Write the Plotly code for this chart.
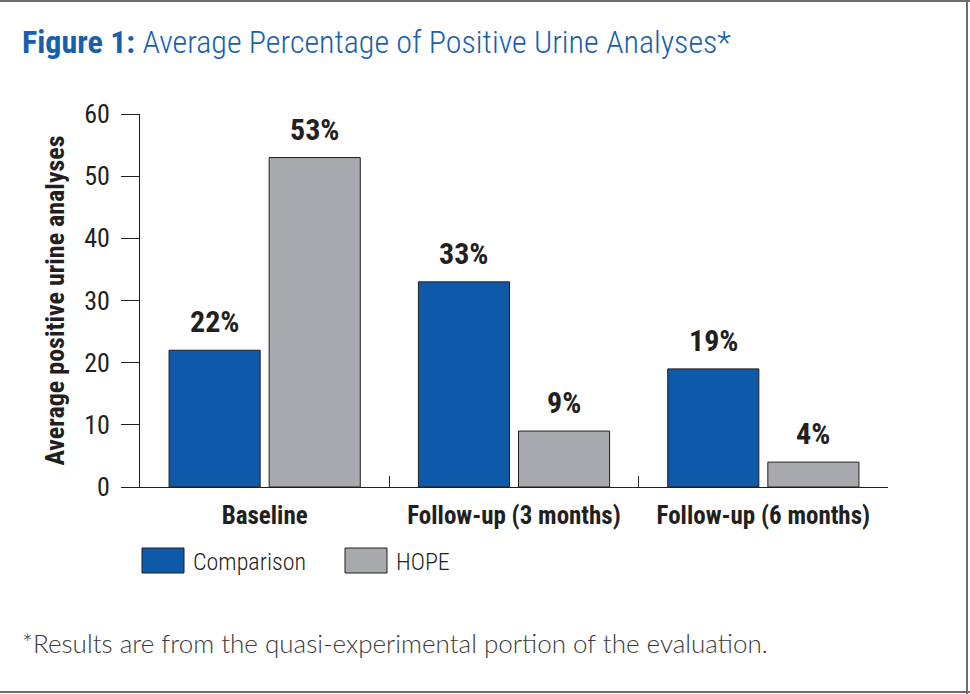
import plotly.graph_objects as go

categories = ["Baseline", "Follow-up (3 months)", "Follow-up (6 months)"]
series_names = ["Comparison", "HOPE"]
comparison = [22, 33, 19]
hope = [53, 9, 4]
values = [comparison, hope]
colors = ["#0e5aa8", "#a7a9ac"]

title_bold = "Figure 1:"
title_rest = "Average Percentage of Positive Urine Analyses*"
y_title = "Average positive urine analyses"
footnote = "*Results are from the quasi-experimental portion of the evaluation."

W, H = 970, 694
L, R, T, B = 140, 82, 114, 207
NARROW = "Roboto Condensed, Liberation Sans Narrow, sans-serif"
INK = "#231f20"
BLUE_TITLE = "#1660ad"


def px_x(p):
    return (p - L) / (W - L - R)


def px_y(p):
    return (H - B - p) / (H - T - B)


fig = go.Figure()
for name, vals, col in zip(series_names, values, colors):
    fig.add_trace(go.Bar(
        name=name, x=categories, y=vals,
        marker=dict(color=col, line=dict(color=INK, width=1)),
        showlegend=False, hoverinfo="skip",
    ))

# value labels above bars
slot = (W - L - R) / len(categories) * (1 - 0.197) / 2
annotations = []
for i, vals in enumerate(values):
    for cat, v in zip(categories, vals):
        annotations.append(dict(
            x=cat, y=v, xref="x", yref="y", text="<b>%d%%</b>" % v,
            showarrow=False, xshift=(i - 0.5) * slot, yshift=9, yanchor="bottom",
            font=dict(family=NARROW, size=30, color=INK),
        ))

# legend drawn by hand so the swatches can be large
shapes = []
legend_x = [142, 345]
for name, col, lx in zip(series_names, colors, legend_x):
    shapes.append(dict(
        type="rect", xref="paper", yref="paper",
        x0=px_x(lx), x1=px_x(lx + 42), y0=px_y(573), y1=px_y(548),
        fillcolor=col, line=dict(color=INK, width=1),
    ))
    annotations.append(dict(
        x=px_x(lx + 49), y=px_y(562), xref="paper", yref="paper",
        text=name, showarrow=False, xanchor="left", yanchor="middle",
        font=dict(family=NARROW, size=24, color=INK, weight=300),
    ))

annotations.append(dict(
    x=px_x(20), y=px_y(643), xref="paper", yref="paper", text=footnote,
    showarrow=False, xanchor="left", yanchor="middle",
    font=dict(family="Lato, sans-serif", size=26, color="#3a3a3a", weight=300),
))

# frame: top, right, bottom
frame = dict(color="#6d6e71", width=2)
shapes.append(dict(type="line", xref="paper", yref="paper", x0=px_x(0), x1=px_x(W), y0=px_y(1), y1=px_y(1), line=frame))
shapes.append(dict(type="line", xref="paper", yref="paper", x0=px_x(W - 3), x1=px_x(W - 3), y0=px_y(0), y1=px_y(H), line=frame))
shapes.append(dict(type="line", xref="paper", yref="paper", x0=px_x(0), x1=px_x(W), y0=px_y(H - 2), y1=px_y(H - 2), line=frame))

fig.update_layout(
    width=W, height=H,
    margin=dict(l=L, r=R, t=T, b=B),
    paper_bgcolor="white", plot_bgcolor="white",
    barmode="group", bargap=0.197, bargroupgap=0.09,
    title=dict(
        text="<b>%s</b> <span style='font-weight:300'>%s</span>" % (title_bold, title_rest),
        x=22 / W, xref="container", xanchor="left",
        y=1 - 42 / H, yref="container", yanchor="middle",
        font=dict(family=NARROW, size=32, color=BLUE_TITLE),
    ),
    xaxis=dict(
        showline=True, linecolor=INK, linewidth=1,
        ticks="inside", ticklen=11, tickcolor=INK, tickson="boundaries",
        ticklabelstandoff=6, tickangle=0, automargin=False,
        tickfont=dict(family=NARROW, size=25, color=INK, weight="bold"),
        showgrid=False, zeroline=False,
    ),
    yaxis=dict(
        range=[0, 60], dtick=10,
        showline=True, linecolor=INK, linewidth=1,
        ticks="outside", ticklen=18, tickcolor=INK,
        ticklabelstandoff=6, automargin=False,
        tickfont=dict(family=NARROW, size=26, color=INK),
        title=dict(text="<b>%s</b>" % y_title, standoff=12,
                   font=dict(family=NARROW, size=26, color=INK)),
        showgrid=False, zeroline=False,
    ),
    annotations=annotations,
    shapes=shapes,
)

fig.write_html("out.html", config={"displayModeBar": False},
               post_script="document.body.style.margin='0';")
